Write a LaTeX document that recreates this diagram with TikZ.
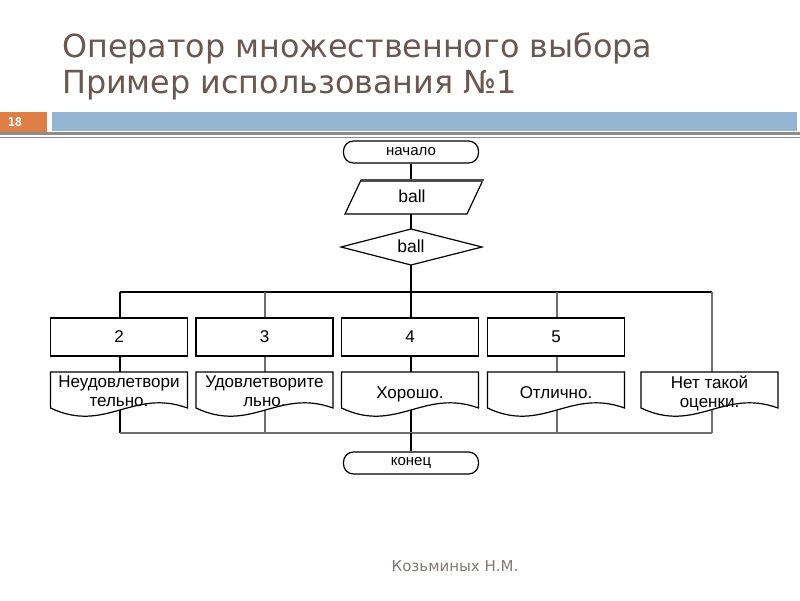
\documentclass[tikz,border=0pt]{standalone}
\usepackage{fontspec}
\setmainfont{Liberation Sans}
\newfontfamily\titlefont{DejaVu Sans}
\newfontfamily\numfont{DejaVu Sans Mono}
\definecolor{titlec}{RGB}{106,88,80}
\definecolor{orangec}{RGB}{221,128,71}
\definecolor{bluec}{RGB}{148,182,210}
\definecolor{grayc}{RGB}{140,140,140}
\definecolor{footc}{RGB}{130,120,115}
\definecolor{linegray}{RGB}{110,110,110}
\begin{document}
\begin{tikzpicture}[x=1pt,y=-1pt,
  shp/.style={draw=black,line width=1.2pt,fill=white},
  term/.style={shp,rounded corners=10pt,minimum width=135pt,minimum height=22pt,inner sep=0pt,font=\fontsize{15}{15}\selectfont},
  procbox/.style={shp,minimum width=137pt,minimum height=38pt,inner sep=0pt,font=\fontsize{17}{17}\selectfont},
  ghost/.style={draw=none,inner sep=0pt,minimum width=#1,minimum height=34pt},
  doctext/.style={align=center,font=\fontsize{17}{19}\selectfont,inner sep=0pt,anchor=north},
  conn/.style={line width=1.4pt,black},
  conng/.style={line width=1.4pt,linegray}]
\useasboundingbox (0,0) rectangle (800,600);
% header
\node[anchor=base west,text=titlec,font=\titlefont\fontsize{31.8}{31.8}\selectfont,inner sep=0pt] (t1) at (62,57) {Оператор множественного выбора};
\node[anchor=base west,text=titlec,font=\titlefont\fontsize{31.8}{31.8}\selectfont,inner sep=0pt] (t2) at (62,93) {Пример использования №1};
\fill[orangec] (0,112) rectangle (47,132);
\fill[bluec] (52,112) rectangle (797,131);
\fill[grayc] (0,132) rectangle (800,135);
\fill[grayc] (0,136.5) rectangle (800,137.5);
\node[text=white,font=\numfont\bfseries\fontsize{12}{12}\selectfont,inner sep=0pt] (num) at (15,122) {18};
% footer
\node[text=footc,font=\titlefont\fontsize{15}{15}\selectfont,inner sep=0pt,anchor=base] (foot) at (455,571) {Козьминых Н.М.};

% coordinates
\coordinate (b1) at (120,292); \coordinate (b2) at (265,292); \coordinate (b3) at (411,292);
\coordinate (b4) at (557,292); \coordinate (b5) at (712,292);
\coordinate (c1) at (120,433); \coordinate (c2) at (265,433); \coordinate (c3) at (411,433);
\coordinate (c4) at (557,433); \coordinate (c5) at (712,433);

% nodes used by connectors
\node[term] (start) at (411,152) {начало};
\node[ghost=122pt] (inp) at (414,197) {};
\node[ghost=142pt,minimum height=36pt] (dec) at (411,247) {};
\draw[conn] (start.south) -- (start.south |- inp.north);
\draw[conn] (start.south |- inp.south) -- (dec.north);
\draw[conn] (dec.south) -- (b3);
\draw[conn] (b1) -- (b5);
\draw[conn] (b1) -- (c1);
\draw[conng] (b2) -- (c2);
\draw[conn] (b3) -- (c3);
\draw[conng] (b4) -- (c4);
\draw[conng] (b5) -- (c5);
\draw[conng] (c1) -- (c5);

% parallelogram
\draw[shp] (361,180) -- (483,180) -- (467,214) -- (345,214) -- cycle;
\draw[line width=2.5pt,black!70] (361,180.5) -- (483,180.5);
\node[font=\fontsize{17.5}{17.5}\selectfont,inner sep=0pt] (inptxt) at (412,196) {ball};
% diamond
\draw[shp] (341,247) -- (411,229) -- (482,247) -- (411,265) -- cycle;
\node[font=\fontsize{17.5}{17.5}\selectfont,inner sep=0pt] (dectxt) at (411,246) {ball};

% boxes
\node[procbox] (p1) at (119,337) {2};
\node[procbox] (p2) at (264.5,337) {3};
\node[procbox] (p3) at (410,337) {4};
\node[procbox] (p4) at (556,337) {5};

% documents
\foreach \x in {50.5,196,341.5,487.5,641}{
  \draw[shp] (\x,372) -- (\x+137,372) -- (\x+137,408)
     .. controls (\x+0.6*137,388) and (\x+0.4*137,434) .. (\x,408) -- cycle;
}
\node[doctext] (d1) at (119,376) {Неудовлетвори\\тельно.};
\node[doctext] (d2) at (264.5,376) {Удовлетворите\\льно.};
\node[doctext] (d3) at (410,386.5) {Хорошо.};
\node[doctext] (d4) at (556,386.5) {Отлично.};
\node[doctext] (d5) at (709.5,376) {Нет такой\\оценки.};

\node[term] (end) at (411,463) {конец};
\draw[conn] (c3) -- (end.north);
\end{tikzpicture}
\end{document}
